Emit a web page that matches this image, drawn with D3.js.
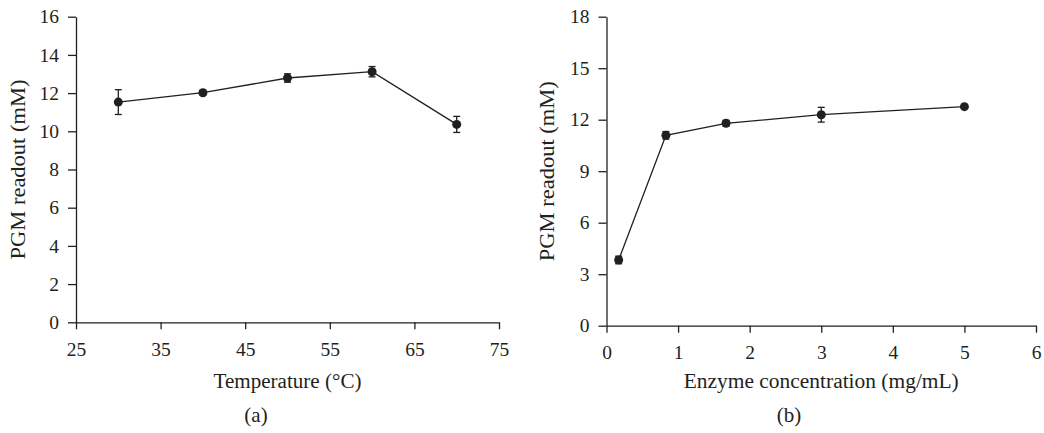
<!DOCTYPE html>
<html>
<head>
<meta charset="utf-8">
<script src="https://cdn.jsdelivr.net/npm/d3@7"></script>
<style>
  html, body { margin: 0; padding: 0; background: #fff; }
  svg text { font-family: "Liberation Serif", "Times New Roman", serif; fill: #231f20; }
</style>
</head>
<body>
<div id="chart"></div>
<script>
// panel (a): temperature
const tempX = [30, 40, 50, 60, 70];
const tempY = [11.53, 12.02, 12.79, 13.12, 10.36];
const tempErr = [0.65, 0.12, 0.22, 0.27, 0.42];
const tempTicksX = [25, 35, 45, 55, 65, 75];
const tempTicksY = [0, 2, 4, 6, 8, 10, 12, 14, 16];

// panel (b): enzyme concentration
const concX = [0.17, 0.83, 1.67, 3, 5];
const concY = [3.83, 11.09, 11.79, 12.29, 12.76];
const concErr = [0.22, 0.22, 0.17, 0.43, 0.06];
const concTicksX = [0, 1, 2, 3, 4, 5, 6];
const concTicksY = [0, 3, 6, 9, 12, 15, 18];

const ink = '#231f20';
const width = 1044, height = 433;

const svg = d3.select('#chart').append('svg')
  .attr('width', width).attr('height', height);

function panel(opts) {
  const x = d3.scaleLinear().domain(opts.xDomain).range([opts.L, opts.R]);
  const y = d3.scaleLinear().domain(opts.yDomain).range([opts.B, opts.T]);
  const g = svg.append('g');

  const xAxis = d3.axisBottom(x).tickValues(opts.xTicks).tickFormat(d3.format('d'))
    .tickSize(7).tickSizeOuter(0).tickPadding(13);
  const yAxis = d3.axisLeft(y).tickValues(opts.yTicks).tickFormat(d3.format('d'))
    .tickSize(8).tickSizeOuter(0).tickPadding(9);

  const gx = g.append('g').attr('transform', `translate(0,${opts.B})`).call(xAxis);
  const gy = g.append('g').attr('transform', `translate(${opts.L},0)`).call(yAxis);
  [gx, gy].forEach(a => {
    a.selectAll('path, line').attr('stroke', ink).attr('stroke-width', 1.3);
    a.selectAll('text').attr('font-size', 19.5).attr('fill', ink)
      .style('font-family', '"Liberation Serif", serif');
  });
  gx.selectAll('text').attr('dy', '0.69em');

  // x title
  g.append('text')
    .attr('x', (opts.L + opts.R) / 2).attr('y', 388)
    .attr('text-anchor', 'middle').attr('font-size', 20.5)
    .attr('textLength', opts.xTitleLen).attr('lengthAdjust', 'spacingAndGlyphs')
    .text(opts.xTitle);

  // y title
  g.append('text')
    .attr('transform', `translate(${opts.yTitleX},${(opts.B + opts.T) / 2}) rotate(-90)`)
    .attr('text-anchor', 'middle').attr('font-size', 20.5)
    .attr('textLength', 180).attr('lengthAdjust', 'spacingAndGlyphs')
    .text('PGM readout (mM)');

  // panel letter
  g.append('text')
    .attr('x', opts.letterX).attr('y', 422)
    .attr('text-anchor', 'middle').attr('font-size', 21)
    .text(opts.letter);

  const pts = opts.xs.map((v, i) => ({ x: v, y: opts.ys[i], e: opts.errs[i] }));

  // error bars
  const eb = g.append('g').attr('stroke', ink).attr('stroke-width', 1.3);
  pts.forEach(d => {
    eb.append('line').attr('x1', x(d.x)).attr('x2', x(d.x))
      .attr('y1', y(d.y - d.e)).attr('y2', y(d.y + d.e));
    [d.y - d.e, d.y + d.e].forEach(v => {
      eb.append('line').attr('x1', x(d.x) - 3.5).attr('x2', x(d.x) + 3.5)
        .attr('y1', y(v)).attr('y2', y(v));
    });
  });

  g.append('path').datum(pts)
    .attr('fill', 'none').attr('stroke', ink).attr('stroke-width', 1.3)
    .attr('d', d3.line().x(d => x(d.x)).y(d => y(d.y)));

  g.append('g').selectAll('circle').data(pts).enter().append('circle')
    .attr('cx', d => x(d.x)).attr('cy', d => y(d.y))
    .attr('r', 4.5).attr('fill', ink);
}

panel({
  xDomain: [25, 75], yDomain: [0, 16], L: 76, R: 499, T: 16.7, B: 322.3,
  xTicks: tempTicksX, yTicks: tempTicksY,
  xs: tempX, ys: tempY, errs: tempErr,
  xTitle: 'Temperature (°C)', xTitleLen: 148, yTitleX: 25,
  letter: '(a)', letterX: 256
});

panel({
  xDomain: [0, 6], yDomain: [0, 18], L: 606.5, R: 1036, T: 16.7, B: 325.7,
  xTicks: concTicksX, yTicks: concTicksY,
  xs: concX, ys: concY, errs: concErr,
  xTitle: 'Enzyme concentration (mg/mL)', xTitleLen: 275, yTitleX: 554,
  letter: '(b)', letterX: 789
});
</script>
</body>
</html>
